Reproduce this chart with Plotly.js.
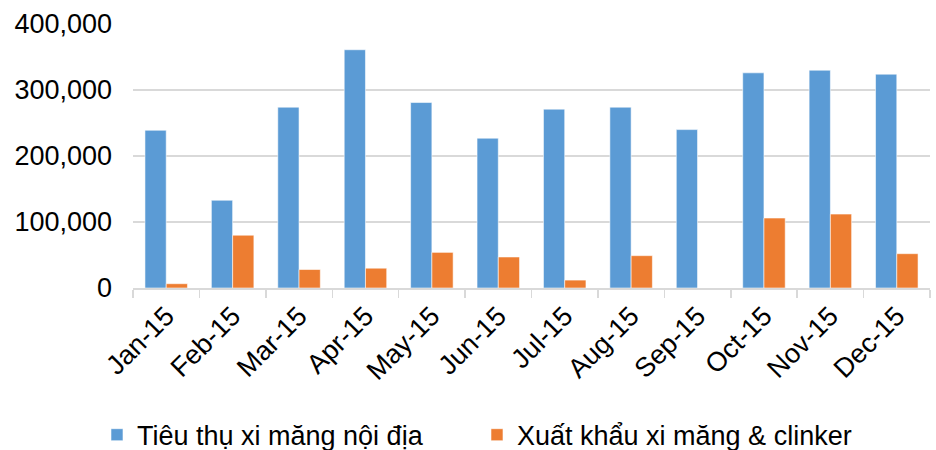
<!DOCTYPE html>
<html>
<head>
<meta charset="utf-8">
<script src="https://cdn.plot.ly/plotly-3.0.1.min.js"></script>
<style>html,body{margin:0;padding:0;background:#fff;}#chart{width:936px;height:450px;}</style>
</head>
<body>
<div id="chart"></div>
<script>
const months = ["Jan-15","Feb-15","Mar-15","Apr-15","May-15","Jun-15","Jul-15","Aug-15","Sep-15","Oct-15","Nov-15","Dec-15"];
const domestic = [239000,133000,274000,361000,281000,227000,271000,274000,240000,326000,330000,324000];
const exportVals = [6500,80000,28000,30000,54000,47000,12000,49000,0,106000,112000,52000];
const seriesNames = ["Tiêu thụ xi măng nội địa","Xuất khẩu xi măng & clinker"];
const yTicks = [0,100000,200000,300000,400000];
const yTickText = ["0","100,000","200,000","300,000","400,000"];

const fam = "Liberation Sans, Arial, sans-serif";
const data = [
  {type:"bar", name:seriesNames[0], x:months, y:domestic,
   marker:{color:"#5B9BD5", line:{color:"rgba(255,255,255,0.7)", width:0.8}}},
  {type:"bar", name:seriesNames[1], x:months, y:exportVals,
   marker:{color:"#ED7D31", line:{color:"rgba(255,255,255,0.7)", width:0.8}}}
];
const layout = {
  width:936, height:450,
  margin:{l:133, r:6, t:24, b:162},
  paper_bgcolor:"#fff", plot_bgcolor:"#fff",
  font:{family:fam, color:"#000"},
  barmode:"group", bargap:0.36, bargroupgap:0,
  showlegend:true,
  legend:{orientation:"h", x:0.5096, xanchor:"center", xref:"container", y:0.033, yref:"container", yanchor:"middle",
          font:{family:fam, size:27, color:"#000"}, entrywidth:335, itemwidth:30, traceorder:"normal"},
  xaxis:{type:"category", tickson:"boundaries", ticks:"outside", ticklen:8, tickcolor:"#d9d9d9", tickwidth:1.5,
         showline:true, linecolor:"#d9d9d9", linewidth:1.5, showgrid:false,
         tickangle:-45, tickfont:{family:fam, size:27, color:"#000"}},
  yaxis:{range:[0,400000], tickvals:yTicks, ticktext:yTickText, showgrid:true, gridcolor:"#d9d9d9", gridwidth:1.5,
         zeroline:false, showline:false, ticks:"", ticklabelstandoff:20,
         tickfont:{family:fam, size:27, color:"#000"}}
};
Plotly.newPlot("chart", data, layout, {displayModeBar:false, staticPlot:true});
</script>
</body>
</html>
